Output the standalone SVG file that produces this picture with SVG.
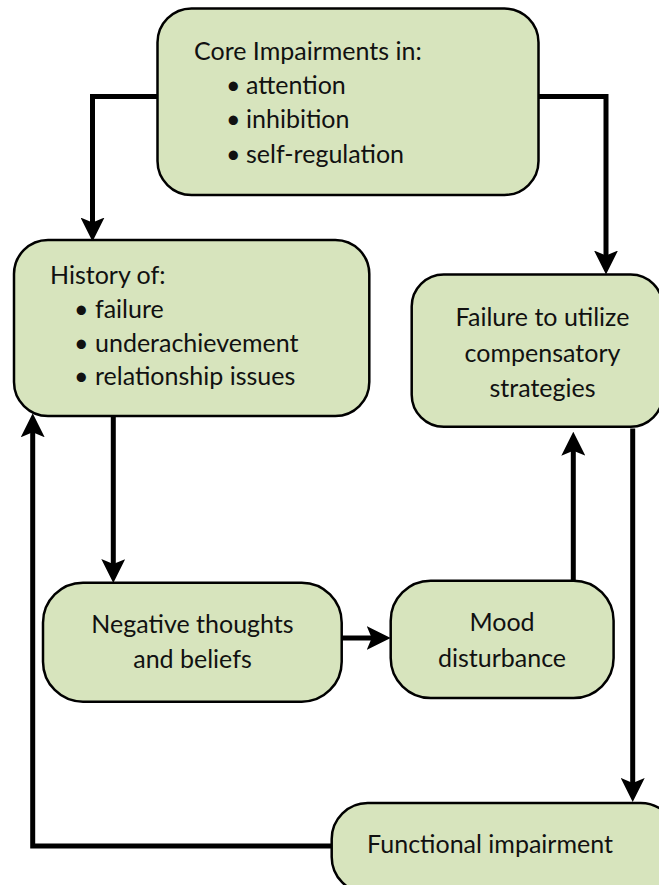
<svg xmlns="http://www.w3.org/2000/svg" width="659" height="885" viewBox="0 0 659 885">
<defs>
<style>
.node{fill:#d7e4bd;stroke:#000;stroke-width:2.5}
.t{font-family:Lato,"Open Sans",sans-serif;font-size:25px;fill:#111}
.m{text-anchor:middle}
.conn{fill:none;stroke:#000;stroke-width:5;stroke-linejoin:miter}
</style>
<marker id="ah" viewBox="0 0 24 24" refX="12" refY="12" markerWidth="24" markerHeight="24" markerUnits="userSpaceOnUse" orient="auto">
<path d="M0,0 L24,12 L0,24 L5,12 Z" fill="#000"/>
</marker>
</defs>
<rect width="659" height="885" fill="#fff"/>
<g id="connectors">
<path class="conn" d="M158,96.5 H92.5 V229.5" marker-end="url(#ah)"/>
<path class="conn" d="M538,96.5 H606 V262.5" marker-end="url(#ah)"/>
<path class="conn" d="M113.3,417 V571" marker-end="url(#ah)"/>
<path class="conn" d="M342,638 H378.7" marker-end="url(#ah)"/>
<path class="conn" d="M573.3,581 V443.7" marker-end="url(#ah)"/>
<path class="conn" d="M632.7,428.5 V790" marker-end="url(#ah)"/>
<path class="conn" d="M332,846 H32.7 V425.3" marker-end="url(#ah)"/>
</g>
<g id="core">
<rect class="node" x="157.5" y="8.5" width="381" height="186.5" rx="34" ry="34"/>
<text class="t" x="194" y="60">Core Impairments in:</text>
<text class="t" y="94.3"><tspan x="226">•</tspan><tspan x="246">attention</tspan></text>
<text class="t" y="128.3"><tspan x="226">•</tspan><tspan x="246">inhibition</tspan></text>
<text class="t" y="163.3"><tspan x="226">•</tspan><tspan x="246">self-regulation</tspan></text>
</g>
<g id="history">
<rect class="node" x="14" y="240" width="355.3" height="176" rx="34" ry="34"/>
<text class="t" x="50" y="284.3">History of:</text>
<text class="t" y="318.3"><tspan x="74">•</tspan><tspan x="95">failure</tspan></text>
<text class="t" y="351.5"><tspan x="74">•</tspan><tspan x="95">underachievement</tspan></text>
<text class="t" y="385"><tspan x="74">•</tspan><tspan x="95">relationship issues</tspan></text>
</g>
<g id="failure">
<rect class="node" x="411.7" y="274.5" width="251" height="152.2" rx="32" ry="32"/>
<text class="t m" x="542.5" y="326">Failure to utilize</text>
<text class="t m" x="542.5" y="361.7">compensatory</text>
<text class="t m" x="542.5" y="396.7">strategies</text>
</g>
<g id="negative">
<rect class="node" x="43" y="582.7" width="298.7" height="119" rx="40" ry="40"/>
<text class="t m" x="192.5" y="633">Negative thoughts</text>
<text class="t m" x="192.5" y="668.3">and beliefs</text>
</g>
<g id="mood">
<rect class="node" x="390.7" y="580.7" width="222.9" height="117.3" rx="40" ry="40"/>
<text class="t m" x="502" y="631">Mood</text>
<text class="t m" x="502" y="666.7">disturbance</text>
</g>
<g id="functional">
<rect class="node" x="331.7" y="803" width="345" height="90" rx="36" ry="36"/>
<text class="t m" x="490" y="853">Functional impairment</text>
</g>
</svg>
